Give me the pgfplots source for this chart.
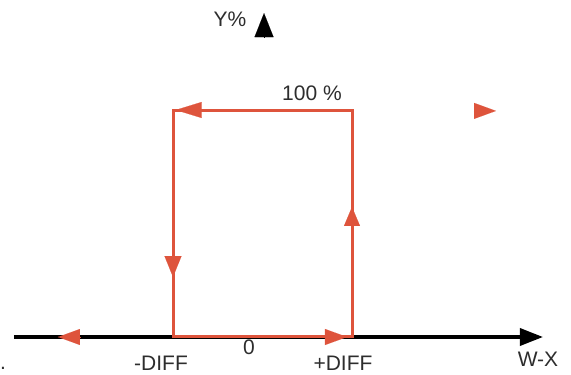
\documentclass[border=0pt]{standalone}
\usepackage{pgfplots}
\pgfplotsset{compat=1.18}
\usetikzlibrary{arrows.meta}
\usepackage{fontspec}
\setmainfont{Liberation Sans}
\definecolor{hred}{RGB}{222,84,60}
\definecolor{txt}{RGB}{45,45,45}
\begin{document}
\begin{tikzpicture}
\begin{axis}[
  scale only axis, width=571pt, height=375pt,
  xmin=-2.933, xmax=3.447, ymin=-16.74, ymax=148.46,
  hide axis, clip=false,
]
\addplot[draw=none] coordinates {(-2.933,-16.74) (3.447,148.46)};
% W-X axis
\addplot[black, line width=3.5pt, -{Triangle[length=23pt,width=17pt]}] coordinates {(-2.777,0) (3.134,0)};
% Y axis arrowhead only
\addplot[black, line width=0.1pt, -{Triangle[length=24pt,width=19pt]}] coordinates {(0.017,132.2) (0.017,142.7)};
% hysteresis loop
\addplot[hred, line width=3pt, line join=miter] coordinates {(0,0) (1,0) (1,100) (-1,100) (-1,0) (0,0)};
% direction arrows
\addplot[hred, line width=0.1pt, -{Triangle[length=26pt,width=16pt]}] coordinates {(-0.66,100) (-0.97,100)};
\addplot[hred, line width=0.1pt, -{Triangle[length=21pt,width=17pt]}] coordinates {(-1,35.2) (-1,26.4)};
\addplot[hred, line width=0.1pt, -{Triangle[length=19pt,width=16pt]}] coordinates {(1,50.2) (1,57.3)};
\addplot[hred, line width=0.1pt, -{Triangle[length=22pt,width=16pt]}] coordinates {(0.698,0) (0.944,0)};
\addplot[hred, line width=0.1pt, -{Triangle[length=22pt,width=16pt]}] coordinates {(-2.039,0) (-2.285,0)};
\addplot[hred, line width=0.1pt, -{Triangle[length=22pt,width=16pt]}] coordinates {(2.363,99.6) (2.609,99.6)};
% labels
\begin{scope}[every node/.style={font=\fontsize{21}{24}\selectfont, text=txt, inner sep=0pt}]
\node at (axis cs:-0.363,140.1) {Y\%};
\node at (axis cs:0.553,107.5) {100 \%};
\node at (axis cs:-0.151,-4.4) {0};
\node at (axis cs:-1.134,-11.6) {-DIFF};
\node at (axis cs:0.899,-11.6) {+DIFF};
\node at (axis cs:3.078,-9.7) {W-X};
\node at (axis cs:-2.90,-14.0) {.};
\end{scope}
\end{axis}
\end{tikzpicture}
\end{document}
